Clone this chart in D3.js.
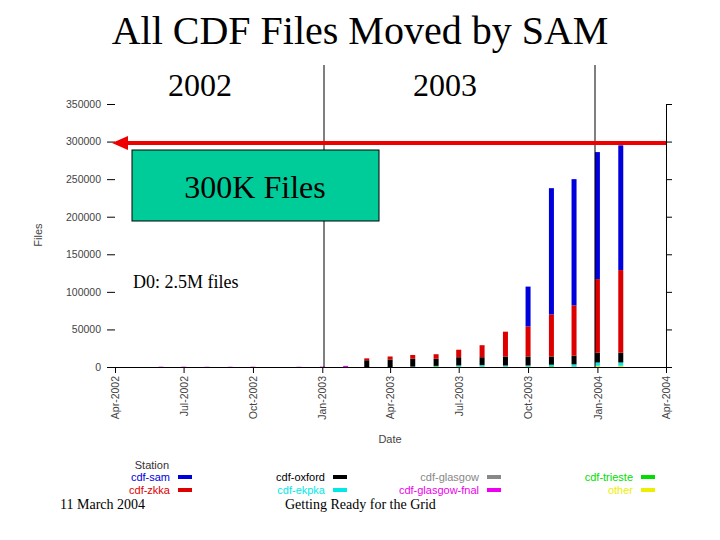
<!DOCTYPE html><html><head><meta charset="utf-8">
<script src="https://d3js.org/d3.v7.min.js"></script>
<style>body{margin:0;background:#fff}</style></head><body>
<svg id="c" width="720" height="540"></svg>
<script>
const months=["2002-06","2002-07","2002-08","2002-09","2002-10","2002-11","2002-12","2003-01","2003-02","2003-03","2003-04","2003-05","2003-06","2003-07","2003-08","2003-09","2003-10","2003-11","2003-12","2004-01","2004-02"];
const other =[0,0,0,0,0,0,0,0,0,0,0,0,0,0,0,0,0,0,0,1500,1500];
const trieste=[0,0,0,0,0,0,0,0,0,0,0,0,1000,500,500,500,500,1000,500,500,500];
const ekpka=[0,0,0,0,0,0,0,0,0,0,0,500,500,1500,2000,1500,1500,2000,3000,4000,4000];
const glasgowFnal=[400,400,300,300,400,0,300,500,1500,0,0,0,0,0,0,0,0,0,0,0,0];
const glasgow=[0,0,0,0,0,0,0,0,0,0,0,0,0,0,0,0,0,0,0,0,0];
const oxford=[0,0,0,0,0,0,0,0,0,9000,10000,10500,9500,11000,10500,12000,12000,11000,11500,13000,13000];
const zkka=[0,0,0,0,0,0,0,0,0,2500,4000,5000,6000,10000,16000,33000,40000,56000,67000,98000,110000];
const sam=[0,0,0,0,0,0,0,0,0,0,0,0,0,0,0,0,53000,168000,168000,169000,166000];
const yTicks=[0,50000,100000,150000,200000,250000,300000,350000];
const xTicks=["2002-04","2002-07","2002-10","2003-01","2003-04","2003-07","2003-10","2004-01","2004-04"];
const xTickLabels=["Apr-2002","Jul-2002","Oct-2002","Jan-2003","Apr-2003","Jul-2003","Oct-2003","Jan-2004","Apr-2004"];
const series=[
 {name:"other",vals:other,color:"#eeee00"},
 {name:"cdf-trieste",vals:trieste,color:"#00dd00"},
 {name:"cdf-ekpka",vals:ekpka,color:"#00e8e8"},
 {name:"cdf-glasgow-fnal",vals:glasgowFnal,color:"#ee00ee"},
 {name:"cdf-glasgow",vals:glasgow,color:"#888888"},
 {name:"cdf-oxford",vals:oxford,color:"#000000"},
 {name:"cdf-zkka",vals:zkka,color:"#dd0000"},
 {name:"cdf-sam",vals:sam,color:"#0000dd"}];
const legendCols=[["cdf-sam","cdf-zkka"],["cdf-oxford","cdf-ekpka"],["cdf-glasgow","cdf-glasgow-fnal"],["cdf-trieste","other"]];

const svg=d3.select("#c");
const p=d3.timeParse("%Y-%m");
const x=d3.scaleTime().domain([p("2002-04"),p("2004-04")]).range([115,666]);
const y=d3.scaleLinear().domain([0,350000]).range([367,104]);
const sf="Liberation Serif, Times New Roman, serif", af="Liberation Sans, Arial, sans-serif";

const ya=svg.append("g").attr("transform","translate(115,0)").call(d3.axisLeft(y).tickValues(yTicks).tickFormat(d3.format("d")).tickSize(8).tickPadding(6));
ya.select(".domain").remove();
ya.selectAll("text").attr("font-family",af).attr("font-size",10.5).attr("fill","#444");
const yr=svg.append("g").attr("transform","translate(666,0)").call(d3.axisRight(y).tickValues(yTicks).tickFormat("").tickSize(6));
const xa=svg.append("g").attr("transform","translate(0,367)").call(d3.axisBottom(x).tickValues(xTicks.map(p)).tickFormat((d,i)=>xTickLabels[i]).tickSize(6));
xa.selectAll("text").attr("font-family",af).attr("font-size",10.5).attr("fill","#444")
 .attr("transform","rotate(-90)").attr("text-anchor","end").attr("y",0).attr("x",-9).attr("dy","0.35em");
svg.append("text").attr("x",42).attr("y",235).attr("transform","rotate(-90,42,235)").attr("text-anchor","middle").attr("font-family",af).attr("font-size",11).attr("fill","#444").text("Files");
svg.append("text").attr("x",390).attr("y",443).attr("text-anchor","middle").attr("font-family",af).attr("font-size",11).attr("fill","#444").text("Date");

const stack=d3.stack().keys(series.map((s,i)=>i)).value((d,k)=>series[k].vals[d]);
const layers=stack(months.map((m,i)=>i));
layers.forEach((L,k)=>{
 svg.append("g").selectAll("rect").data(L).join("rect")
  .attr("x",(d,i)=>x(p(months[i]))-2.5).attr("width",5)
  .attr("y",d=>y(d[1])).attr("height",d=>y(d[0])-y(d[1]))
  .attr("fill",series[k].color);
});

svg.append("text").attr("x",360).attr("y",44).attr("text-anchor","middle").attr("font-family",sf).attr("font-size",40).text("All CDF Files Moved by SAM");
svg.append("text").attr("x",200).attr("y",96).attr("text-anchor","middle").attr("font-family",sf).attr("font-size",32).text("2002");
svg.append("text").attr("x",445).attr("y",96).attr("text-anchor","middle").attr("font-family",sf).attr("font-size",32).text("2003");
svg.append("line").attr("x1",324).attr("x2",324).attr("y1",65).attr("y2",367).attr("stroke","#000");
svg.append("line").attr("x1",595).attr("x2",595).attr("y1",65).attr("y2",367).attr("stroke","#000");
svg.append("line").attr("x1",125).attr("x2",666).attr("y1",143).attr("y2",143).attr("stroke","#ee0000").attr("stroke-width",4);
svg.append("path").attr("d","M112,143 L128,136 L128,150 Z").attr("fill","#ee0000");
svg.append("rect").attr("x",132).attr("y",150).attr("width",247).attr("height",71).attr("fill","#00cc99").attr("stroke","#000");
svg.append("text").attr("x",255).attr("y",198).attr("text-anchor","middle").attr("font-family",sf).attr("font-size",32).text("300K Files");
svg.append("text").attr("x",133).attr("y",288).attr("font-family",sf).attr("font-size",18).text("D0: 2.5M files");

svg.append("text").attr("x",169).attr("y",469).attr("text-anchor","end").attr("font-family",af).attr("font-size",11).attr("fill","#333").text("Station");
const colX=[170,325,479,633];
legendCols.forEach((col,ci)=>col.forEach((name,ri)=>{
 const s=series.find(s=>s.name===name);
 const yy=481+ri*13;
 svg.append("text").attr("x",colX[ci]).attr("y",yy).attr("text-anchor","end").attr("font-family",af).attr("font-size",11).attr("fill",s.color).text(name);
 svg.append("rect").attr("x",colX[ci]+8).attr("y",yy-6).attr("width",14).attr("height",4).attr("fill",s.color);
}));
svg.append("text").attr("x",60).attr("y",509).attr("font-family",sf).attr("font-size",14).text("11 March 2004");
svg.append("text").attr("x",285).attr("y",509).attr("font-family",sf).attr("font-size",14).text("Getting Ready for the Grid");
</script></body></html>
